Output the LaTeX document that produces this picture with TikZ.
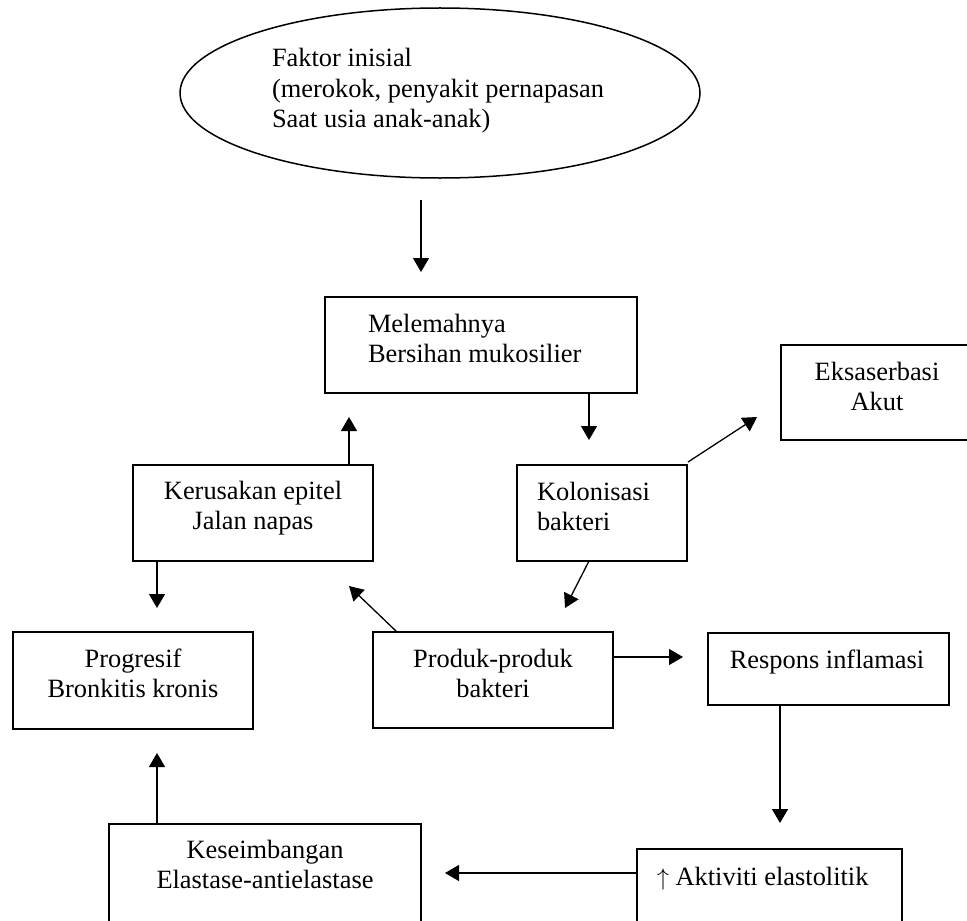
\documentclass[tikz,border=0pt]{standalone}
\usepackage{fontspec}
\setmainfont{Liberation Serif}
\usetikzlibrary{arrows.meta,shapes.geometric,calc}

% stacked text lines whose reference point is the first baseline
\newcommand{\stackC}[1]{\vtop{\halign{\hfil##\hfil\cr#1\crcr}}}
\newcommand{\stackL}[1]{\vtop{\halign{##\hfil\cr#1\crcr}}}
\newcommand{\diagfont}{\fontsize{13.2pt}{15.25pt}\selectfont}

\begin{document}
\begin{tikzpicture}[x=0.5pt,y=-0.5pt,
  box/.style={draw, line width=0.85pt, inner sep=0pt, outer sep=0pt},
  oval/.style={draw, ellipse, line width=0.75pt, inner sep=0pt, outer sep=0pt},
  txt/.style={inner sep=0pt, outer sep=0pt, font=\diagfont},
  arr/.style={line width=0.65pt, -{Triangle[length=7pt,width=8pt]}}]

\useasboundingbox (0,0) rectangle (967,920);

% shapes
\node[oval, minimum width=260pt, minimum height=85pt] (ell) at (440,93) {};
\node[box, minimum width=156pt, minimum height=48pt] (melem) at (481,345) {};
\node[box, minimum width=85pt, minimum height=48pt] (kolon) at (602,513) {};
\node[box, minimum width=96pt, minimum height=47.5pt] (eks) at (877,392.5) {};
\node[box, minimum width=120pt, minimum height=48pt] (kerus) at (253,513) {};
\node[box, minimum width=120pt, minimum height=48.5pt] (prog) at (133,680.5) {};
\node[box, minimum width=120pt, minimum height=48pt] (produk) at (493,680) {};
\node[box, minimum width=120.5pt, minimum height=36pt] (resp) at (828.5,669) {};
\node[box, minimum width=156pt, minimum height=58pt] (keseim) at (265,882) {};
\node[box, minimum width=132.5pt, minimum height=45.5pt] (aktiv) at (769.5,894.5) {};

% texts
\node[txt, anchor=base west] (ellT) at (272,67) {\stackL{Faktor inisial\cr (merokok, penyakit pernapasan\cr Saat usia anak-anak)}};
\node[txt, anchor=base west] (melemT) at (368,332) {\stackL{Melemahnya\cr Bersihan mukosilier}};
\node[txt, anchor=base west] (kolonT) at (537,500) {\stackL{Kolonisasi\cr bakteri}};
\node[txt, anchor=base] (eksT) at (877,380) {\stackC{Eksaserbasi\cr Akut}};
\node[txt, anchor=base] (kerusT) at (253,499) {\stackC{Kerusakan epitel\cr Jalan napas}};
\node[txt, anchor=base] (progT) at (133,667) {\stackC{Progresif\cr Bronkitis kronis}};
\node[txt, anchor=base] (produkT) at (493,667) {\stackC{Produk-produk\cr bakteri}};
\node[txt, anchor=base] (respT) at (827,668) {Respons inflamasi};
\node[txt, anchor=base] (keseimT) at (265,858) {\stackC{Keseimbangan\cr Elastase-antielastase}};
\node[txt, anchor=base west] (aktivT) at (657,885) {$\uparrow$ Aktiviti elastolitik};

% connectors
\draw[arr] ($(ell.south)+(-19,22)$) -- ($(ell.south |- melem.north)+(-19,-25)$);
\draw[arr] ($(melem.south east)+(-48,0)$) -- ($(melem.south east |- kolon.north)+(-48,-25)$);
\draw[arr] ($(kolon.north east)+(1,-3)$) -- ($(eks.south west)+(-24,-23)$);
\draw[arr] ($(kolon.south west)+(72,0)$) -- ($(produk.north)+(72,-24)$);
\draw[arr] ($(produk.north west)+(24,0)$) -- ($(kerus.south east)+(-24,25)$);
\draw[arr] ($(kerus.north east)+(-24,0)$) -- ($(melem.south west)+(24,24)$);
\draw[arr] ($(kerus.south west)+(24,0)$) -- ($(prog.north)+(24,-24)$);
\draw[arr] ($(produk.north east)+(0,25)$) -- ($(resp.north west)+(-25,24)$);
\draw[arr] ($(resp.south west)+(72,0)$) -- ($(aktiv.north west)+(143,-26)$);
\draw[arr] ($(aktiv.north west)+(0,24)$) -- ($(keseim.north east)+(24,49)$);
\draw[arr] ($(keseim.north west)+(48,0)$) -- ($(prog.south west)+(144,24)$);

\end{tikzpicture}
\end{document}
